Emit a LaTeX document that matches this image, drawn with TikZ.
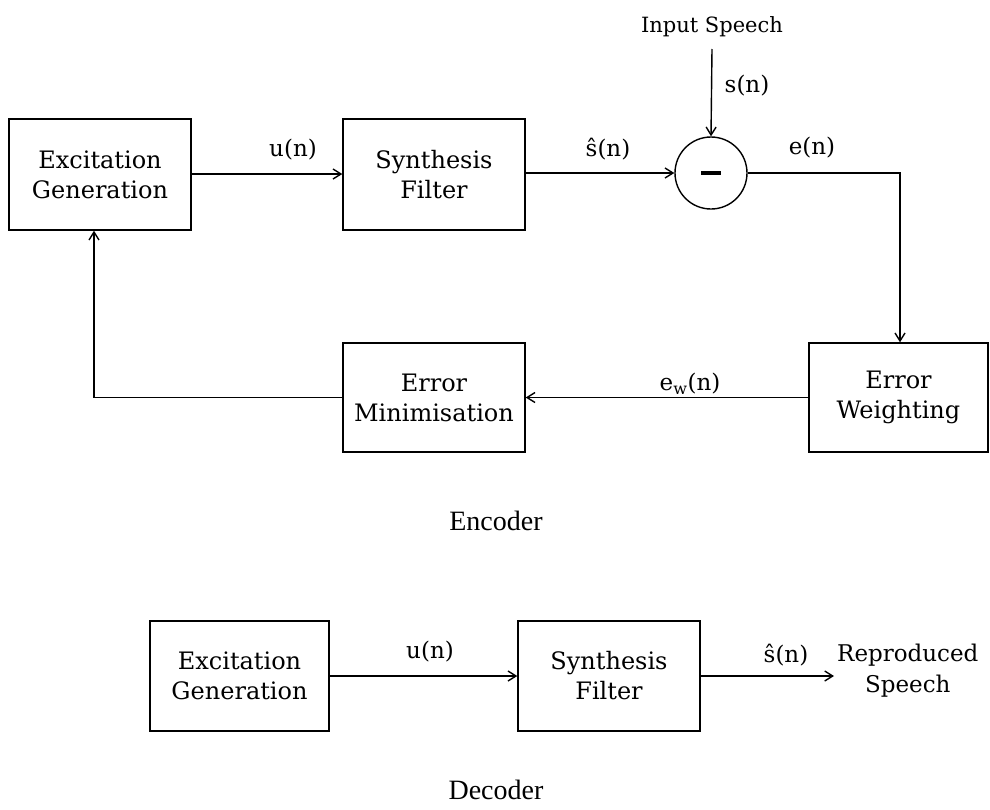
\documentclass[tikz,border=0pt]{standalone}
\usepackage{fontspec}
\setmainfont{DejaVu Serif}
\newfontfamily\titlefont{Liberation Serif}
\usetikzlibrary{arrows.meta,calc}
\begin{document}
\begin{tikzpicture}[x=1pt,y=-1pt,
  blk/.style={draw,line width=1.4pt,minimum width=182pt,minimum height=111pt,align=center,inner sep=0pt,font=\fontsize{24}{30}\selectfont},
  lbl/.style={font=\fontsize{23}{26}\selectfont,inner sep=0pt},
  ttl/.style={font=\titlefont\fontsize{28}{32}\selectfont,inner sep=0pt},
  conn/.style={line width=1.4pt,-{Straight Barb[length=8pt,width=10pt,line width=1.4pt]}},
  plain/.style={line width=1.4pt}]
\useasboundingbox (0,0) rectangle (990,809);
% Encoder
\node[blk] (exc) at (100,174.5) {Excitation\\Generation};
\node[blk] (syn) at (434,174.5) {Synthesis\\Filter};
\node[draw,circle,line width=1.4pt,minimum size=72pt,inner sep=0pt] (sum) at (711,173) {\rule{20pt}{4pt}};
\node[lbl,font=\fontsize{21}{26}\selectfont] (inp) at (712,27) {Input Speech};
\node[blk,minimum width=179pt,minimum height=109pt] (ew) at (898.5,397.5) {Error\\Weighting};
\node[blk,minimum height=109pt] (em) at (434,397.5) {Error\\Minimisation};
\coordinate (corner) at (900,173);
\draw[conn] (exc.east |- 0,174) -- (syn.west |- 0,174);
\node[lbl] (lu) at (293,150) {u(n)};
\draw[conn] (syn.east |- sum.west) -- (sum.west);
\node[lbl] (lsh) at (608,149) {ŝ(n)};
\draw[conn] (inp.south |- 0,49) -- (sum.north);
\node[lbl] (ls) at (747,86) {s(n)};
\draw[conn] (sum.east) -- (corner) -- (ew.north -| corner);
\node[lbl] (le) at (812,148) {e(n)};
\draw[conn] (ew.west) -- (em.east);
\node[lbl] (lew) at (690,384) {e\textsubscript{w}(n)};
\draw[conn] (em.west) -| ([xshift=-6pt]exc.south);
\node[ttl] (enc) at (496,521) {Encoder};
% Decoder
\node[blk,minimum width=179pt,minimum height=110pt] (dexc) at (239.5,676) {Excitation\\Generation};
\node[blk,minimum height=110pt] (dsyn) at (609,676) {Synthesis\\Filter};
\coordinate (out) at (834,676);
\draw[conn] (dexc.east) -- (dsyn.west);
\node[lbl] (ldu) at (430,652) {u(n)};
\draw[conn] (dsyn.east) -- (out);
\node[lbl] (ldsh) at (786,655) {ŝ(n)};
\node[lbl,align=center,font=\fontsize{23}{31}\selectfont,anchor=west] (rep) at (837,671) {Reproduced\\Speech};
\node[ttl] (dec) at (496,790) {Decoder};
\end{tikzpicture}
\end{document}
